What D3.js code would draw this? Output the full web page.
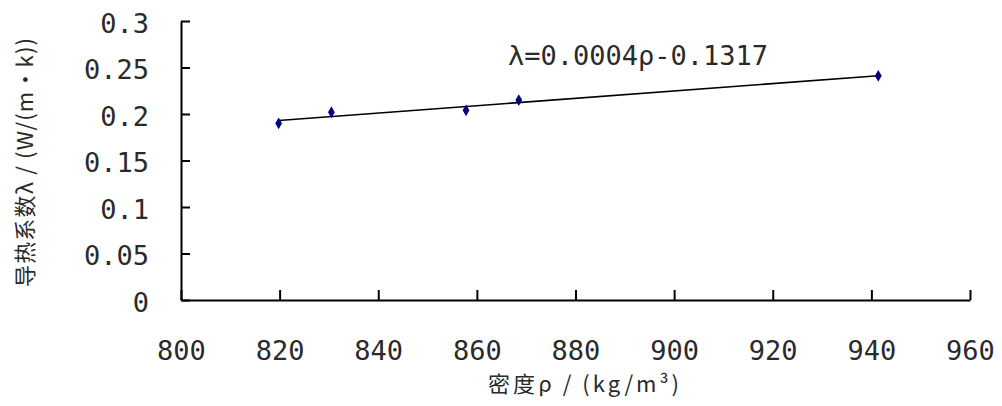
<!DOCTYPE html>
<html>
<head>
<meta charset="utf-8">
<script src="https://cdn.jsdelivr.net/npm/d3@7/dist/d3.min.js"></script>
<style>
  html, body { margin: 0; padding: 0; background: #fff; }
  svg { display: block; }
</style>
</head>
<body>
<svg id="chart" width="1002" height="406"></svg>
<script>
// ---- data ----
const density = [819.8, 830.5, 857.8, 868.5, 941.4];          // ρ (kg/m³)
const conductivity = [0.190, 0.202, 0.204, 0.215, 0.241];    // λ W/(m·k)
const xTickValues = [800, 820, 840, 860, 880, 900, 920, 940, 960];
const yTickValues = [0, 0.05, 0.1, 0.15, 0.2, 0.25, 0.3];
const yTickLabels = ["0", "0.05", "0.1", "0.15", "0.2", "0.25", "0.3"];
const equationText = "λ=0.0004ρ-0.1317";
const xTitle = "密度ρ / (kg/m³)";
const yTitle = "导热系数λ / (W/(m·k))";

const svg = d3.select("#chart");
const monoFont = "'DejaVu Sans Mono', 'Liberation Mono', monospace";
const cjkFont = "'Noto Sans CJK SC', 'Noto Sans', sans-serif";

const x = d3.scaleLinear().domain([800, 960]).range([181, 970]);
const y = d3.scaleLinear().domain([0, 0.3]).range([300, 21]);

// axes (ticks inward)
const xAxis = d3.axisBottom(x).tickValues(xTickValues).tickSize(-10).tickFormat(d => d).tickSizeOuter(0).tickPadding(40);
const yAxis = d3.axisLeft(y).tickValues(yTickValues).tickSize(-9).tickSizeOuter(0)
  .tickFormat((d, i) => yTickLabels[i]).tickPadding(32);

const gx = svg.append("g").attr("transform", "translate(0,300)").call(xAxis);
const gy = svg.append("g").attr("transform", "translate(181,0)").call(yAxis);

[gx, gy].forEach(g => {
  g.select(".domain").attr("stroke", "#000").attr("stroke-width", 2);
  g.selectAll(".tick line").attr("stroke", "#000").attr("stroke-width", 2);
  g.selectAll(".tick text")
    .attr("fill", "#2a2a2a")
    .style("font-family", monoFont)
    .style("font-size", "27px");
});
gx.selectAll(".tick text").attr("dy", "0.75em");
gy.selectAll(".tick text").attr("dy", "0.42em");

// linear regression trendline from data
const mx = d3.mean(density), my = d3.mean(conductivity);
const slope = d3.sum(density.map((d, i) => (d - mx) * (conductivity[i] - my))) /
              d3.sum(density.map(d => (d - mx) * (d - mx)));
const intercept = my - slope * mx;
const xr = d3.extent(density);
svg.append("line")
  .attr("x1", x(xr[0])).attr("y1", y(slope * xr[0] + intercept))
  .attr("x2", x(xr[1])).attr("y2", y(slope * xr[1] + intercept))
  .attr("stroke", "#000").attr("stroke-width", 1.6);

// markers
svg.append("g").selectAll("path")
  .data(density.map((d, i) => [d, conductivity[i]]))
  .join("path")
  .attr("transform", d => `translate(${x(d[0])},${y(d[1])})`)
  .attr("d", d3.symbol().type(d3.symbolDiamond).size(40))
  .attr("fill", "#000080");

// equation label
svg.append("text")
  .attr("x", 508).attr("y", 65)
  .attr("fill", "#2a2a2a")
  .style("font-family", monoFont)
  .style("font-size", "27px")
  .attr("textLength", 260).attr("lengthAdjust", "spacing")
  .text(equationText);

// x axis title
svg.append("text")
  .attr("x", 488).attr("y", 392)
  .attr("fill", "#2a2a2a")
  .style("font-family", cjkFont)
  .style("font-size", "22px")
  .attr("textLength", 191).attr("lengthAdjust", "spacing")
  .text(xTitle);

// y axis title
svg.append("text")
  .attr("transform", "translate(33,287) rotate(-90)")
  .attr("x", 0).attr("y", 0)
  .attr("fill", "#2a2a2a")
  .style("font-family", cjkFont)
  .style("font-size", "22px")
  .attr("textLength", 249).attr("lengthAdjust", "spacing")
  .text(yTitle);
</script>
</body>
</html>
